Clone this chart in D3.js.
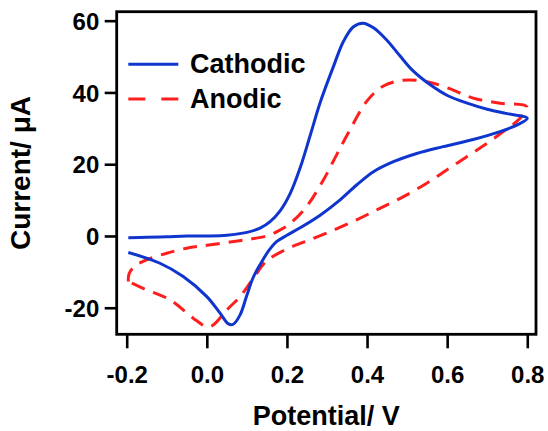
<!DOCTYPE html>
<html>
<head>
<meta charset="utf-8">
<script src="https://cdn.jsdelivr.net/npm/d3@7"></script>
<style>
  html, body { margin: 0; padding: 0; background: #fff; }
  svg { display: block; }
  text { font-family: "Liberation Sans", Arial, sans-serif; font-weight: bold; fill: #000; }
</style>
</head>
<body>
<svg id="chart" width="548" height="431"></svg>
<script>
// ---- Data (potential in V, current in µA) ----
const cathodicV = [-0.196,-0.15,-0.10,-0.05,0.0,0.05,0.10,0.133,0.158,0.183,0.208,0.233,0.258,0.283,0.316,0.341,0.366,0.390,0.416,0.449,0.482,0.515,0.557,0.603,0.650,0.700,0.750,0.800,
                   0.774,0.732,0.665,0.590,0.524,0.466,0.416,0.374,0.332,0.283,0.233,0.200,0.174,0.155,0.135,0.116,0.100,0.083,0.066,0.054,0.033,0.0,-0.059,-0.117,-0.196];
const cathodicI = [-0.5,-0.35,-0.2,0.0,0.0,0.2,1.0,2.2,4.0,7.0,11.8,19.0,28.0,37.2,47.2,54.2,58.3,59.3,58.0,54.6,50.2,46.0,42.2,39.0,37.0,35.3,34.1,32.8,
                   30.9,29.1,26.9,24.9,23.0,20.7,17.9,14.2,10.0,5.8,2.3,0.2,-1.6,-4.0,-7.6,-11.5,-16.5,-22.0,-24.6,-24.5,-21.5,-16.9,-11.3,-7.6,-4.6];
const anodicV = [-0.196,-0.194,-0.180,-0.158,-0.100,-0.042,0.0,0.058,0.100,0.149,0.180,0.208,0.249,0.291,0.324,0.357,0.399,0.441,0.490,0.549,0.603,0.665,0.732,0.799,
                 0.782,0.740,0.699,0.649,0.599,0.549,0.490,0.432,0.374,0.307,0.245,0.200,0.149,0.116,0.083,0.050,0.016,0.0,-0.034,-0.092,-0.159,-0.196];
const anodicI = [-12.7,-10.5,-8.4,-7.0,-4.8,-3.2,-2.6,-1.7,-1.0,0.0,1.5,3.5,8.2,15.6,22.6,29.5,37.5,41.8,43.4,43.0,41.2,38.4,37.0,36.0,
                 32.8,29.1,25.8,22.1,18.4,14.7,10.9,7.7,4.5,1.2,-1.6,-3.6,-7.0,-11.8,-16.9,-20.6,-24.8,-25.3,-22.9,-17.8,-14.6,-12.7];
const xTicks = [-0.2, 0.0, 0.2, 0.4, 0.6, 0.8];
const yTicks = [-20, 0, 20, 40, 60];
const seriesNames = ["Cathodic", "Anodic"];

// ---- Layout ----
const svg = d3.select("#chart");
const L = 116.7, T = 11.7, R = 536, B = 334.3;
const x = d3.scaleLinear().domain([-0.225, 0.8218]).range([L, R]);
const y = d3.scaleLinear().domain([-27.4, 62.5]).range([B, T]);

const blue = "#0f35cf", red = "#ff1e1e";

// x axis
const xAxis = d3.axisBottom(x).tickValues(xTicks).tickSize(14).tickSizeOuter(0)
  .tickFormat(d => d.toFixed(1));
const gx = svg.append("g").attr("transform", `translate(0,${B})`).call(xAxis);
gx.select(".domain").remove();
gx.selectAll(".tick line").attr("stroke", "#000").attr("stroke-width", 2.6);
gx.selectAll(".tick text").attr("y", 49).attr("dy", 0).style("font-size", "24px");

// y axis
const yAxis = d3.axisLeft(y).tickValues(yTicks).tickSize(12).tickSizeOuter(0)
  .tickFormat(d => String(d));
const gy = svg.append("g").attr("transform", `translate(${L},0)`).call(yAxis);
gy.select(".domain").remove();
gy.selectAll(".tick line").attr("stroke", "#000").attr("stroke-width", 2.6);
gy.selectAll(".tick text").attr("x", -17.4).attr("dy", "0.36em").style("font-size", "24px");

// frame
svg.append("rect").attr("x", L).attr("y", T).attr("width", R - L).attr("height", B - T)
  .attr("fill", "none").attr("stroke", "#000").attr("stroke-width", 2.8);

// curves
const line = d3.line().x(d => x(d[0])).y(d => y(d[1])).curve(d3.curveCatmullRom.alpha(0.5));
const cath = cathodicV.map((v, i) => [v, cathodicI[i]]);
const anod = anodicV.map((v, i) => [v, anodicI[i]]);

svg.append("path").datum(anod).attr("d", line).attr("fill", "none")
  .attr("stroke", red).attr("stroke-width", 3).attr("stroke-dasharray", "14,9");
svg.append("path").datum(cath).attr("d", line).attr("fill", "none")
  .attr("stroke", blue).attr("stroke-width", 3);

// legend
const leg = svg.append("g");
leg.append("line").attr("x1", 128.3).attr("x2", 178.3).attr("y1", 64.3).attr("y2", 64.3)
  .attr("stroke", blue).attr("stroke-width", 3);
leg.append("line").attr("x1", 128.3).attr("x2", 178.3).attr("y1", 99).attr("y2", 99)
  .attr("stroke", red).attr("stroke-width", 3).attr("stroke-dasharray", "17,16");
leg.append("text").attr("x", 190).attr("y", 73.3).style("font-size", "27px").text(seriesNames[0]);
leg.append("text").attr("x", 190).attr("y", 108.3).style("font-size", "27px").text(seriesNames[1]);

// axis titles
svg.append("text").attr("x", (L + R) / 2).attr("y", 425).attr("text-anchor", "middle")
  .style("font-size", "27px").text("Potential/ V");
svg.append("text").attr("transform", `translate(30,${(T + B) / 2}) rotate(-90)`)
  .attr("text-anchor", "middle").style("font-size", "28px").text("Current/ μA");
</script>
</body>
</html>
